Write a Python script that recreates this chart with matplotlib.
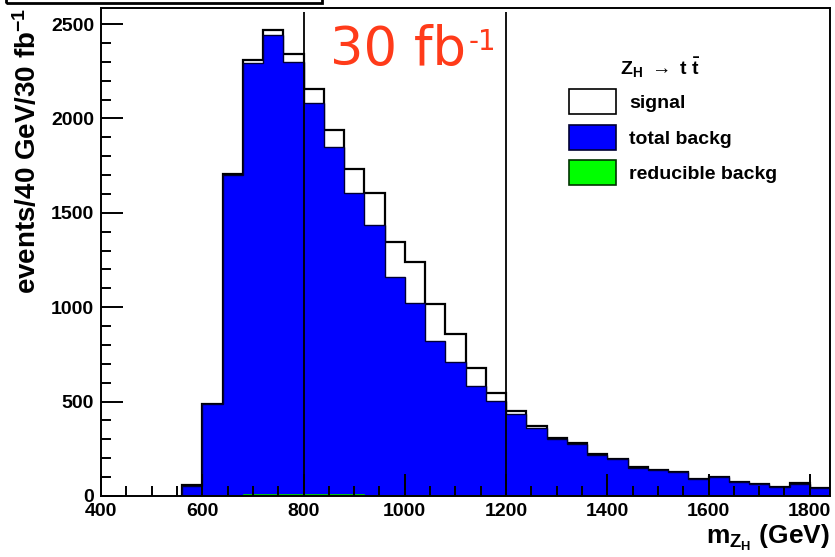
import matplotlib
matplotlib.use('Agg')
import matplotlib.pyplot as plt
from matplotlib.patches import Patch, Rectangle
from matplotlib.ticker import MultipleLocator
import numpy as np


plt.rcParams['font.family'] = ['Liberation Sans', 'DejaVu Sans']
plt.rcParams['font.weight'] = 'bold'
plt.rcParams['axes.labelweight'] = 'bold'
plt.rcParams['mathtext.fontset'] = 'custom'
plt.rcParams['mathtext.rm'] = 'Liberation Sans:bold'
plt.rcParams['mathtext.bf'] = 'Liberation Sans:bold'
plt.rcParams['mathtext.it'] = 'Liberation Sans:bold'

# 40 GeV bins from 560 to 1840 GeV
BIN_LO = 560
BIN_HI = 1840
BIN_W = 40

# signal + background (stacked outline)
signal = [58, 487, 1704, 2309, 2468, 2341, 2155, 1938, 1730, 1607, 1347,
          1237, 1017, 856, 676, 544, 452, 371, 309, 279, 221, 196, 152,
          138, 129, 90, 99, 76, 62, 49, 67, 41]
total_backg = [55, 485, 1700, 2295, 2442, 2300, 2080, 1850, 1607, 1435,
               1162, 1024, 823, 711, 584, 503, 432, 358, 302, 276, 218,
               194, 147, 136, 127, 89, 98, 75, 61, 48, 66, 40]
reducible_backg = [0, 0, 4, 12, 12, 12, 12, 12, 12, 4, 4, 4, 4, 4, 4, 4,
                   4, 4, 4, 0, 0, 0, 0, 0, 0, 0, 0, 0, 0, 0, 0, 0]
cuts = [800, 1200]

edges = np.arange(BIN_LO, BIN_HI + BIN_W, BIN_W)

fig = plt.figure(figsize=(8.35, 5.57), dpi=100)
ax = fig.add_axes([101 / 835, 61 / 557, 729 / 835, 488 / 557])

ax.stairs(signal, edges, fill=True, facecolor='white', edgecolor='black',
          linewidth=1.6)
ax.stairs(total_backg, edges, fill=True, facecolor='#0000ff',
          edgecolor='#000033', linewidth=1.0)
ax.stairs(reducible_backg, edges, fill=True, facecolor='#00ff00',
          edgecolor='#00cc00', linewidth=0.6)
ax.vlines(cuts, 0, 2565, color='black', linewidth=1.3, zorder=3)

ax.set_xlim(400, 1840)
ax.set_ylim(0, 2585)
ax.xaxis.set_major_locator(MultipleLocator(200))
ax.xaxis.set_minor_locator(MultipleLocator(50))
ax.yaxis.set_major_locator(MultipleLocator(500))
ax.yaxis.set_minor_locator(MultipleLocator(100))
ax.tick_params(which='both', direction='in', top=False, right=False,
               width=1.4, labelsize=14)
ax.tick_params(which='major', length=16, pad=5)
ax.tick_params(which='minor', length=7.5)
for s in ax.spines.values():
    s.set_linewidth(1.4)

ax.set_ylabel('events/40 GeV/30 fb$^{-1}$', fontsize=20, loc='top',
              labelpad=6)
ax.set_xlabel(r'm$_{Z_{H}}$ (GeV)', fontsize=19, loc='right', labelpad=2)

# luminosity label: "30 fb" with a smaller raised "-1"
ax.text(852, 2500, '30 fb', fontsize=38, color='#ff3b1a',
        family='DejaVu Sans', fontweight='normal', va='top')
ax.text(1127, 2480, '-1', fontsize=20, color='#ff3b1a',
        family='DejaVu Sans', fontweight='normal', va='top')

ax.text(0.712, 0.877, r'Z$_{H}$ $\rightarrow$ t $\bar{\mathrm{t}}$',
        transform=ax.transAxes, fontsize=14, va='center', ha='left')

handles = [Patch(facecolor='white', edgecolor='black', linewidth=1.2),
           Patch(facecolor='#0000ff', edgecolor='#000033', linewidth=1.2),
           Patch(facecolor='#00ff00', edgecolor='#003300', linewidth=1.2)]
labels = ['signal', 'total backg', 'reducible backg']
ax.legend(handles, labels, loc='upper left', bbox_to_anchor=(0.642, 0.834),
          frameon=False, fontsize=14, handlelength=2.4, handleheight=1.6,
          handletextpad=0.7, labelspacing=0.55, borderpad=0,
          borderaxespad=0)

# cropped title box at the very top of the picture
fig.add_artist(Rectangle((6 / 835, 1 - 3 / 557), 316 / 835, 0.2,
                         transform=fig.transFigure, fill=False,
                         edgecolor='black', linewidth=2))

fig.savefig('out.png', dpi=100)
